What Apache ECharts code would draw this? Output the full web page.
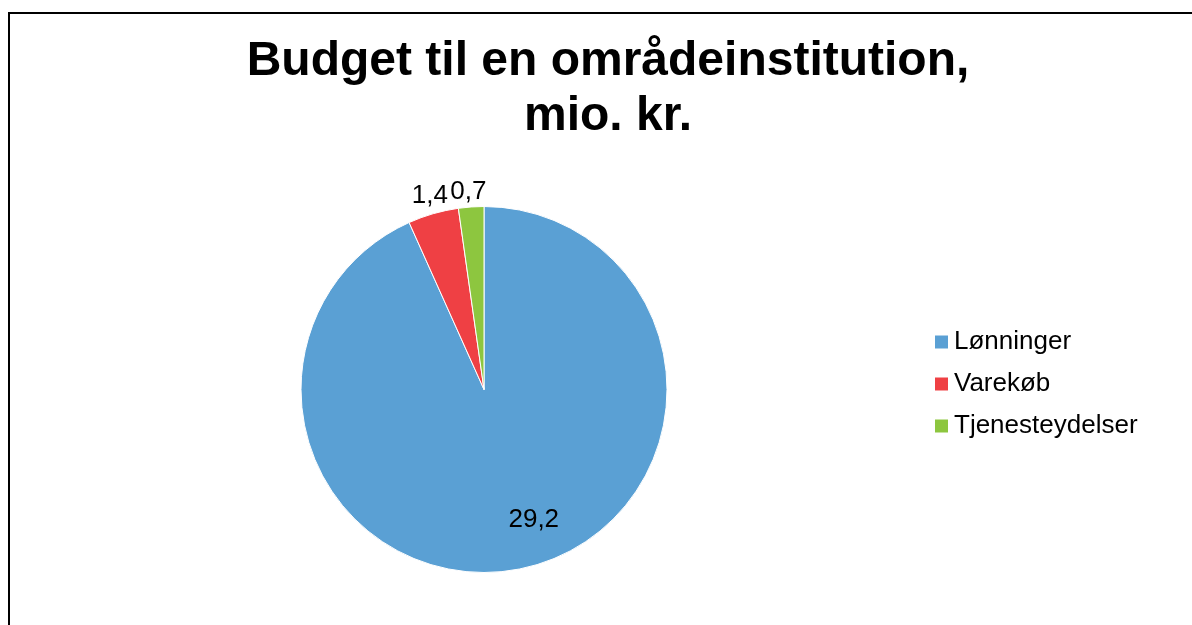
<!doctype html>
<html lang="da">

<head>
    <meta charset="utf-8">
    <title>Budget til en områdeinstitution</title>
    <style>
        html, body {
            margin: 0;
            padding: 0;
            overflow: hidden;
            background: #fff;
        }

        #chart {
            width: 1192px;
            height: 625px;
        }
    </style>
</head>

<body>
    <div id="chart"></div>
    <script src="https://cdn.jsdelivr.net/npm/echarts@6/dist/echarts.min.js"></script>
    <script>
        // data
        var categories = ['Lønninger', 'Varekøb', 'Tjenesteydelser'];
        var values = [29.2, 1.4, 0.7];
        var colors = ['#5AA0D4', '#EF4044', '#8DC63F'];
        // label nudges so the numbers sit where the original puts them
        var labelOffsets = [[30, 38], [-28, -103], [-9, -103]];

        var font = '"Liberation Sans", Arial, sans-serif';

        var chart = echarts.init(document.getElementById('chart'));

        var pieData = categories.map(function (name, i) {
            return {
                name: name,
                value: values[i],
                itemStyle: { color: colors[i] },
                label: { offset: labelOffsets[i] }
            };
        });

        chart.setOption({
            animation: false,
            backgroundColor: '#fff',
            title: {
                text: 'Budget til en områdeinstitution,\nmio. kr.',
                left: 608,
                top: 34,
                padding: 0,
                textAlign: 'center',
                textStyle: {
                    fontFamily: font,
                    fontSize: 48,
                    fontWeight: 'bold',
                    lineHeight: 55,
                    color: '#000'
                }
            },
            graphic: [{
                type: 'rect',
                shape: { x: 9, y: 13, width: 1400, height: 900 },
                style: { fill: 'none', stroke: '#000', lineWidth: 2 },
                silent: true
            }],
            legend: {
                orient: 'vertical',
                left: 928,
                top: 322,
                itemWidth: 15,
                itemHeight: 15,
                itemGap: 12,
                icon: 'rect',
                selectedMode: false,
                data: categories,
                textStyle: {
                    fontFamily: font,
                    fontSize: 26,
                    lineHeight: 30,
                    color: '#000'
                }
            },
            series: [{
                type: 'pie',
                center: [484, 389.5],
                radius: 183,
                startAngle: 90,
                clockwise: true,
                avoidLabelOverlap: false,
                itemStyle: {
                    borderColor: '#fff',
                    borderWidth: 1
                },
                label: {
                    show: true,
                    position: 'inside',
                    fontFamily: font,
                    fontSize: 26,
                    color: '#000',
                    formatter: function (p) {
                        return String(p.value).replace('.', ',');
                    }
                },
                labelLine: { show: false },
                emphasis: { disabled: true },
                data: pieData
            }]
        });
    </script>
</body>

</html>
